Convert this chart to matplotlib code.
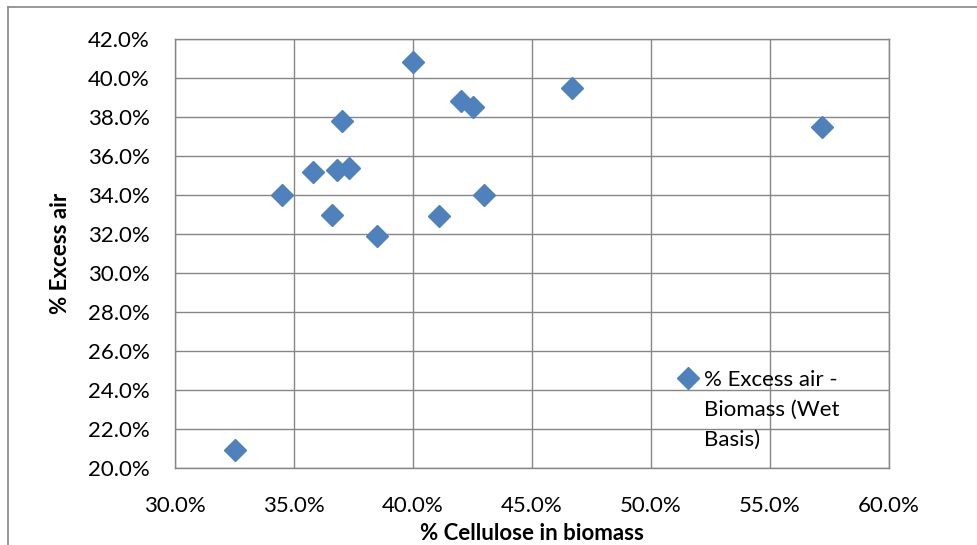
import matplotlib.pyplot as plt
from matplotlib.lines import Line2D
from matplotlib.legend_handler import HandlerLine2D
import numpy as np

plt.rcParams['font.family'] = ['Lato', 'DejaVu Sans']

# % cellulose in biomass vs % excess air (wet basis)
cellulose = [32.5, 34.5, 35.8, 36.6, 36.8, 37.0, 37.3, 38.5, 40.0, 41.1, 42.0, 42.5, 43.0, 46.7, 57.2]
excess_air = [20.9, 34.0, 35.2, 33.0, 35.3, 37.8, 35.4, 31.9, 40.8, 32.9, 38.8, 38.5, 34.0, 39.5, 37.5]

x_ticks = np.arange(30, 61, 5)
y_ticks = np.arange(20, 43, 2)

grid_col = '#868686'
fs = 16

fig = plt.figure(figsize=(9.78, 5.45), dpi=100)
ax = fig.add_axes([175 / 978, 1 - 468 / 545, (889 - 175) / 978, (468 - 39) / 545])

ax.plot(cellulose, excess_air, linestyle='none', marker='D', markersize=11,
        color='#4F81BD', label='% Excess air -\nBiomass (Wet\nBasis)', zorder=3)

ax.set_xlim(30, 60)
ax.set_ylim(20, 42)
ax.set_xticks(x_ticks)
ax.set_yticks(y_ticks)
ax.set_xticklabels(['%.1f%%' % v for v in x_ticks])
ax.set_yticklabels(['%.1f%%' % v for v in y_ticks])
ax.tick_params(length=0, labelsize=fs, colors='black')
ax.tick_params(axis='y', pad=18)
ax.tick_params(axis='x', pad=20)
ax.grid(True, color=grid_col, linewidth=1)
ax.set_axisbelow(True)
for s in ax.spines.values():
    s.set_color(grid_col)
    s.set_linewidth(1)

ax.set_xlabel('% Cellulose in biomass', fontsize=fs, fontweight='bold', labelpad=5)
ax.set_ylabel('% Excess air', fontsize=fs, fontweight='bold', labelpad=12)


# put the legend marker on the first line of the wrapped label
def raise_marker(legend_handle, orig_handle):
    legend_handle.update_from(orig_handle)
    legend_handle.set_ydata(np.asarray(legend_handle.get_ydata()) + 23.5)


leg = ax.legend(loc='upper left', bbox_to_anchor=(666 / 978, 1 - 361 / 545),
                bbox_transform=fig.transFigure, frameon=False, fontsize=fs,
                handletextpad=0.1, handlelength=1.2, borderaxespad=0,
                handler_map={Line2D: HandlerLine2D(update_func=raise_marker)})
for t in leg.get_texts():
    t.set_linespacing(1.63)

# outer chart border (clipped at right and bottom)
fig.add_artist(Line2D([8 / 978, 1], [1 - 7 / 545, 1 - 7 / 545], color=grid_col, linewidth=1.2))
fig.add_artist(Line2D([8 / 978, 8 / 978], [0, 1 - 7 / 545], color=grid_col, linewidth=1.2))

fig.savefig('out.png', dpi=100)
